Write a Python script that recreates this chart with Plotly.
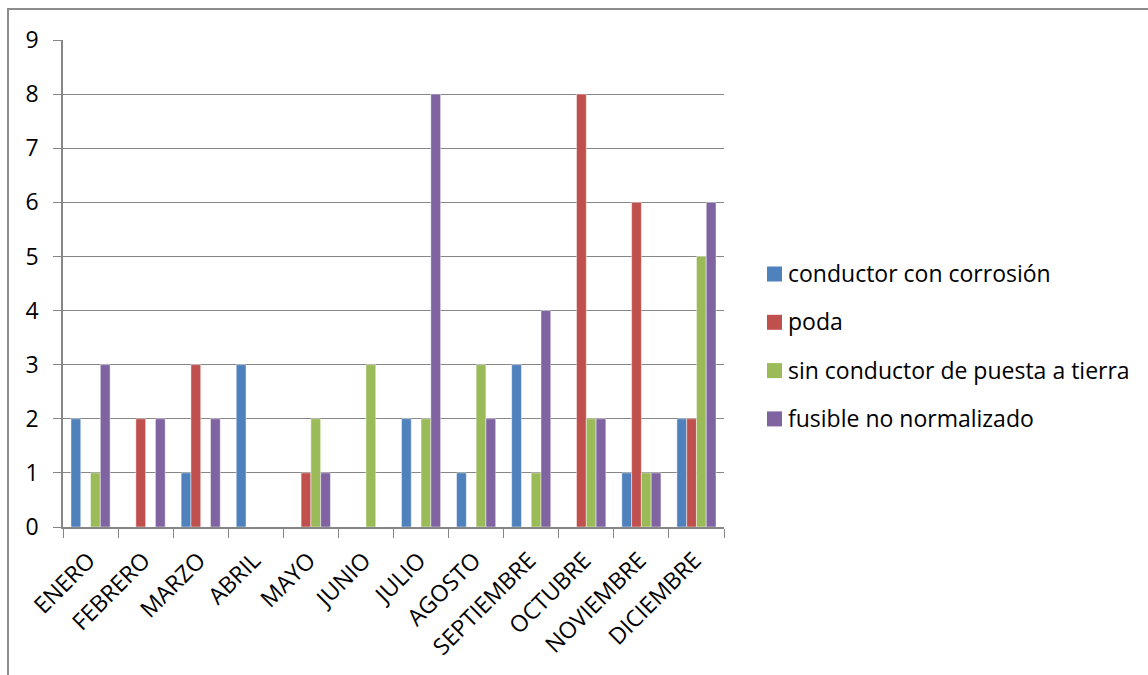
import plotly.graph_objects as go

# Monthly counts of findings by type
meses = ["ENERO", "FEBRERO", "MARZO", "ABRIL", "MAYO", "JUNIO", "JULIO",
         "AGOSTO", "SEPTIEMBRE", "OCTUBRE", "NOVIEMBRE", "DICIEMBRE"]

conductor_corrosion = [2, 0, 1, 3, 0, 0, 2, 1, 3, 0, 1, 2]
poda = [0, 2, 3, 0, 1, 0, 0, 0, 0, 8, 6, 2]
sin_puesta_tierra = [1, 0, 0, 0, 2, 3, 2, 3, 1, 2, 1, 5]
fusible_no_normalizado = [3, 2, 2, 0, 1, 0, 8, 2, 4, 2, 1, 6]

series = [
    ("conductor con corrosión", conductor_corrosion, "#4F81BD"),
    ("poda", poda, "#C0504D"),
    ("sin conductor de puesta a tierra", sin_puesta_tierra, "#9BBB59"),
    ("fusible no normalizado", fusible_no_normalizado, "#8064A2"),
]

FONT = "'Open Sans', sans-serif"
FSIZE = 23
GRID = "#868686"

fig = go.Figure()
for name, vals, color in series:
    fig.add_trace(go.Bar(
        x=meses, y=vals, name=name, showlegend=False,
        marker=dict(color=color, line=dict(color="rgba(255,255,255,0.45)", width=1)),
    ))

W, H = 1148, 675
L, R, T, B = 63, 724, 40, 527
pw, ph = R - L, B - T

def px(x):
    return (x - L) / pw

def py(y):
    return (B - y) / ph

# Legend drawn as colour squares with text beside them
shapes = [dict(
    type="rect", xref="paper", yref="paper",
    x0=px(8), y0=py(700), x1=px(1170), y1=py(9),
    line=dict(color="#8c8c8c", width=2), layer="below",
)]
annotations = []
legend_top, legend_step, sq = 274, 48.3, 15
for i, (name, _, color) in enumerate(series):
    cy = legend_top + i * legend_step
    shapes.append(dict(
        type="rect", xref="paper", yref="paper",
        x0=px(767), x1=px(767 + sq), y0=py(cy + sq / 2), y1=py(cy - sq / 2),
        fillcolor=color, line=dict(width=0),
    ))
    annotations.append(dict(
        xref="paper", yref="paper", x=px(786), y=py(cy - 1),
        xanchor="left", yanchor="middle", showarrow=False,
        text=name, font=dict(family=FONT, size=FSIZE, color="black"),
    ))

fig.update_layout(
    width=W, height=H,
    margin=dict(l=L, r=W - R, t=T, b=H - B, pad=0),
    paper_bgcolor="white", plot_bgcolor="white",
    barmode="group", bargap=0.29, bargroupgap=0,
    font=dict(family=FONT, size=FSIZE, color="black"),
    showlegend=False,
    xaxis=dict(
        type="category", tickangle=-45, tickson="boundaries",
        ticks="outside", ticklen=9, tickcolor=GRID,
        showline=True, linecolor=GRID, linewidth=1.5,
        showgrid=False, tickfont=dict(size=FSIZE),
        ticklabelstandoff=9, ticklabelshift=-2,
    ),
    yaxis=dict(
        range=[0, 9], dtick=1, autorange=False,
        ticks="outside", ticklen=8, tickcolor=GRID,
        showline=True, linecolor=GRID, linewidth=1.5,
        showgrid=True, gridcolor=GRID, gridwidth=1.2,
        zeroline=False, tickfont=dict(size=FSIZE), ticklabelstandoff=10,
    ),
    shapes=shapes,
    annotations=annotations,
)

fig.write_html("out.html")
